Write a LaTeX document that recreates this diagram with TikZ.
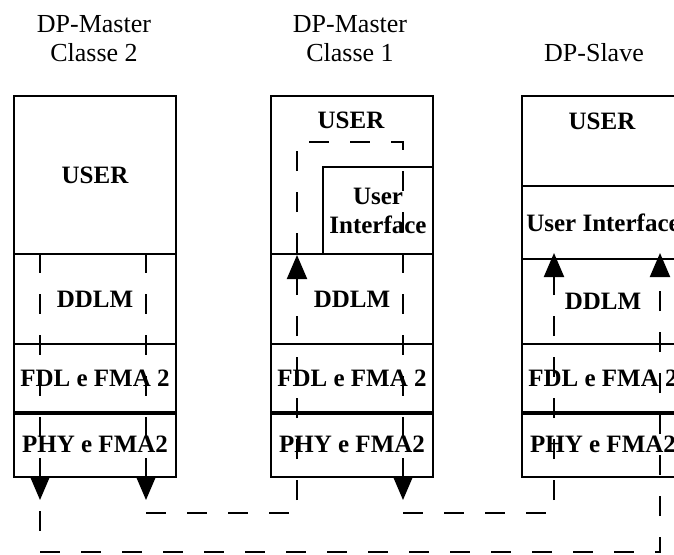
\documentclass[tikz,border=0pt]{standalone}
\usepackage{fontspec}
\setmainfont{Liberation Serif}
\usetikzlibrary{arrows.meta}
\newcommand{\titlefont}{\fontsize{26}{29}\selectfont}
\newcommand{\layerfont}{\fontsize{25}{29}\selectfont\bfseries}
\tikzset{
    title/.style={font=\titlefont, align=center, inner sep=0pt},
    layer/.style={draw, line width=2pt, rectangle, anchor=north west,
        minimum width=162pt, inner sep=0pt, font=\layerfont, align=center},
    layertext/.style={font=\layerfont, inner sep=0pt},
    sepline/.style={line width=4pt},
    flow/.style={line width=2pt, dash pattern=on 20pt off 21pt,
        -{Triangle[length=24pt, width=20pt]}},
    plainflow/.style={line width=2pt, dash pattern=on 20pt off 21pt}
}

\begin{document}
\begin{tikzpicture}[x=1pt, y=-1pt]
    \useasboundingbox (0,0) rectangle (674,554);
    \clip (0,0) rectangle (674,554);
    \begin{scope}
        % Titles
        \node[title] (titleA) at (94,39) {DP-Master\\Classe 2};
        \node[title] (titleB) at (350,39) {DP-Master\\Classe 1};
        \node[title] (titleC) at (594,53) {DP-Slave};
        % DP-Master classe 2 stack
        \node[layer, minimum height=158pt] (userA) at (13,95) {USER};
        \node[layer, minimum height=90pt] (ddlmA) at (13,253) {DDLM};
        \node[layer, minimum height=68pt] (fdlA) at (13,343) {FDL e FMA 2};
        \node[layer, minimum height=65pt] (phyA) at (13,411) {PHY e FMA2};
        \draw[sepline] (fdlA.south west) -- (fdlA.south east);
        % DP-Master classe 1 stack
        \node[layer, minimum height=158pt] (userB) at (270,95) {};
        \node[layertext] (userBtext) at (351,120) {USER};
        \node[layer, minimum width=110pt, minimum height=87pt] (uiB) at (322,166) {User\\Interface};
        \node[layer, minimum height=90pt] (ddlmB) at (270,253) {DDLM};
        \node[layer, minimum height=68pt] (fdlB) at (270,343) {FDL e FMA 2};
        \node[layer, minimum height=65pt] (phyB) at (270,411) {PHY e FMA2};
        \draw[sepline] (fdlB.south west) -- (fdlB.south east);
        % DP-Slave stack
        \node[layer, minimum height=90pt] (userC) at (521,95) {};
        \node[layertext] (userCtext) at (602,121) {USER};
        \node[layer, minimum height=73pt] (uiC) at (521,185) {User Interface};
        \node[layer, minimum height=85pt] (ddlmC) at (521,258) {DDLM};
        \node[layer, minimum height=68pt] (fdlC) at (521,343) {FDL e FMA 2};
        \node[layer, minimum height=65pt] (phyC) at (521,411) {PHY e FMA2};
        \draw[sepline] (fdlC.south west) -- (fdlC.south east);
        % Message paths
        \coordinate (aLtop) at (40,253);
        \coordinate (aLend) at (40,500);
        \coordinate (aRtop) at (146,253);
        \coordinate (aRend) at (146,500);
        \coordinate (aLbus) at (40,511);
        \coordinate (busLow) at (660,552);
        \coordinate (cRtip) at (660,253);
        \coordinate (aRbus) at (146,513);
        \coordinate (bLbus) at (297,513);
        \coordinate (bLtip) at (297,255);
        \coordinate (bLtop) at (297,253);
        \coordinate (bRturn) at (403,142);
        \coordinate (bRend) at (403,500);
        \coordinate (bRbus) at (403,513);
        \coordinate (cLbus) at (554,513);
        \coordinate (cLtip) at (554,253);
        \draw[flow] (aLtop) -- (aLend);
        \draw[flow] (aRtop) -- (aRend);
        \draw[flow] (aLbus) |- (busLow) -- (cRtip);
        \draw[flow] (aRbus) -- (bLbus) -- (bLtip);
        \draw[flow] (bLtop) |- (bRturn) -- (bRend);
        \draw[flow] (bRbus) -- (cLbus) -- (cLtip);
    \end{scope}
\end{tikzpicture}
\end{document}
